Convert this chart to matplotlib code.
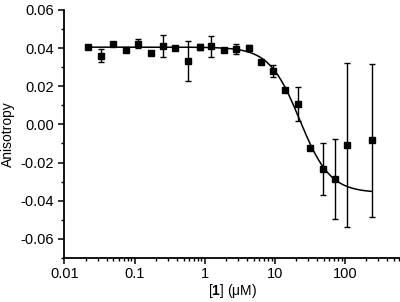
import numpy as np
import matplotlib
matplotlib.use("Agg")
import matplotlib.pyplot as plt
from matplotlib.ticker import MultipleLocator, LogLocator, FixedLocator, FixedFormatter, NullFormatter

plt.rcParams['font.family'] = ['Liberation Sans', 'DejaVu Sans']
plt.rcParams['mathtext.fontset'] = 'custom'
plt.rcParams['mathtext.rm'] = 'Liberation Sans'
plt.rcParams['mathtext.bf'] = 'Liberation Sans:bold'

# Data: concentration of [1] (uM), anisotropy, error
conc = [0.022, 0.033, 0.050, 0.076, 0.111, 0.169, 0.254, 0.381, 0.577, 0.849,
        1.25, 1.89, 2.84, 4.25, 6.3, 9.5, 14.2, 21.3, 31.9, 48, 72, 108, 245]
aniso = [0.0407, 0.0360, 0.0420, 0.0390, 0.0423, 0.0375, 0.0410, 0.0398, 0.0333, 0.0405,
         0.0410, 0.0392, 0.0395, 0.0402, 0.0328, 0.0279, 0.0179, 0.0109, -0.0123, -0.0233,
         -0.0288, -0.0107, -0.0084]
err = [0.0008, 0.0033, 0.0006, 0.0006, 0.0025, 0.0006, 0.0059, 0.0006, 0.0103, 0.0014,
       0.0055, 0.0010, 0.0028, 0.0016, 0.0010, 0.0033, 0.0008, 0.0089, 0.0008, 0.0137,
       0.0210, 0.0430, 0.0400]

# Fitted dose-response parameters
fit_top = 0.0405
fit_bottom = -0.0358
fit_ec50 = 22.7
fit_hill = 2.0

xticks = [0.01, 0.1, 1, 10, 100]
xticklabels = ['0.01', '0.1', '1', '10', '100']
yticks = [-0.06, -0.04, -0.02, 0.00, 0.02, 0.04, 0.06]
yticklabels = ['-0.06', '-0.04', '-0.02', '0.00', '0.02', '0.04', '0.06']

fig = plt.figure(figsize=(4.0, 3.02), dpi=100)
ax = fig.add_axes([0.161, 0.146, 0.839, 0.821])

xs = np.logspace(np.log10(conc[0]), np.log10(conc[-1]), 300)
ys = fit_bottom + (fit_top - fit_bottom) / (1 + (xs / fit_ec50) ** fit_hill)
ax.plot(xs, ys, color='black', lw=1.1, zorder=2)

ax.errorbar(conc, aniso, yerr=err, fmt='s', color='black', ms=5, mfc='black', mec='black',
            ecolor='black', elinewidth=1.0, capsize=2.3, capthick=1.0, zorder=3)

ax.set_xscale('log')
ax.set_xlim(0.01, 611)
ax.set_ylim(-0.07, 0.06)

ax.xaxis.set_major_locator(FixedLocator(xticks))
ax.xaxis.set_major_formatter(FixedFormatter(xticklabels))
ax.xaxis.set_minor_locator(LogLocator(base=10, subs=np.arange(2, 10), numticks=20))
ax.xaxis.set_minor_formatter(NullFormatter())
ax.yaxis.set_major_locator(FixedLocator(yticks))
ax.yaxis.set_major_formatter(FixedFormatter(yticklabels))
ax.yaxis.set_minor_locator(MultipleLocator(0.01))

for s in ['top', 'right']:
    ax.spines[s].set_visible(False)
for s in ['left', 'bottom']:
    ax.spines[s].set_linewidth(1.3)

ax.tick_params(which='major', direction='out', length=4, width=1.1, labelsize=10.5, colors='black')
ax.tick_params(axis='x', which='major', pad=2.5)
ax.tick_params(which='minor', direction='out', length=2.2, width=1.0)

ax.set_ylabel('Anisotropy', fontsize=10, labelpad=4)
ax.set_xlabel('[$\\mathbf{1}$] (\u03bcM)', fontsize=10, labelpad=1)

fig.savefig('out.png', dpi=100)
